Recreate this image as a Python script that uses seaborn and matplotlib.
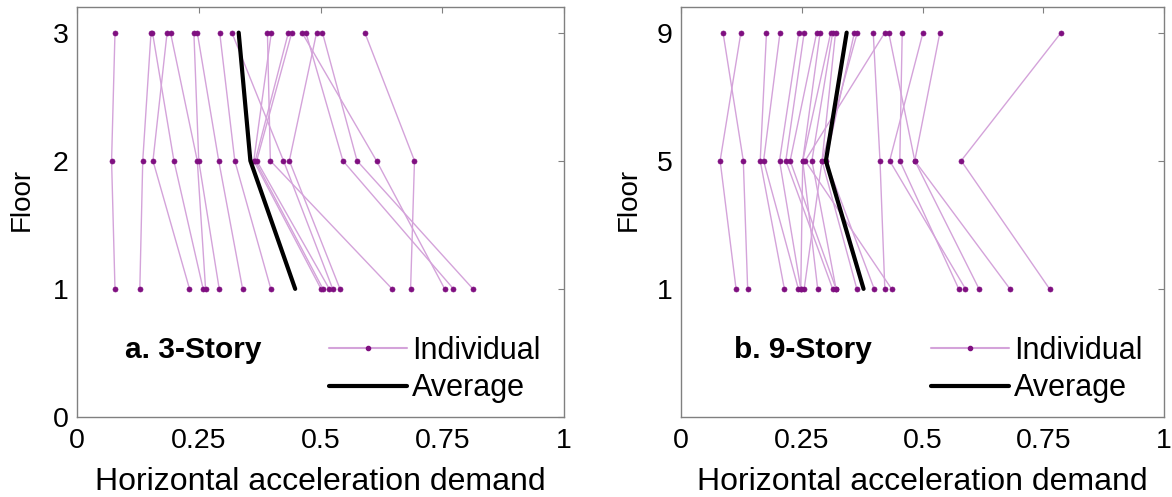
import matplotlib
matplotlib.use("Agg")
import matplotlib.pyplot as plt
from matplotlib.lines import Line2D
import seaborn as sns
import pandas as pd

# ---------------- data: 3-story (floor positions 1,2,3 -> floors 1,2,3)
s3_f1 = [0.078, 0.129, 0.231, 0.259, 0.264, 0.292, 0.340, 0.398, 0.647, 0.501,
         0.505, 0.518, 0.525, 0.540, 0.773, 0.813, 0.755, 0.685]
s3_f2 = [0.071, 0.135, 0.156, 0.199, 0.247, 0.250, 0.291, 0.324, 0.397, 0.363,
         0.366, 0.369, 0.424, 0.436, 0.546, 0.575, 0.615, 0.693]
s3_f3 = [0.078, 0.152, 0.185, 0.155, 0.192, 0.240, 0.247, 0.293, 0.391, 0.399,
         0.434, 0.441, 0.318, 0.492, 0.470, 0.504, 0.462, 0.591]
s3_avg = [0.448, 0.356, 0.332]
s3_floor_labels = ["0", "1", "2", "3"]

# ---------------- data: 9-story (positions 1,2,3 -> floors 1,5,9)
s9_f1 = [0.138, 0.114, 0.214, 0.243, 0.248, 0.314, 0.321, 0.248, 0.283, 0.321,
         0.364, 0.400, 0.255, 0.422, 0.436, 0.617, 0.575, 0.589, 0.681, 0.763]
s9_f5 = [0.129, 0.081, 0.164, 0.171, 0.204, 0.217, 0.226, 0.252, 0.252, 0.271,
         0.292, 0.300, 0.292, 0.412, 0.257, 0.484, 0.453, 0.432, 0.484, 0.580]
s9_f9 = [0.087, 0.124, 0.177, 0.205, 0.244, 0.255, 0.281, 0.288, 0.310, 0.314,
         0.320, 0.359, 0.365, 0.398, 0.422, 0.430, 0.458, 0.501, 0.536, 0.787]
s9_avg = [0.378, 0.300, 0.343]
s9_floor_labels = ["1", "5", "9"]

x_ticks = [0, 0.25, 0.5, 0.75, 1]
x_tick_labels = ["0", "0.25", "0.5", "0.75", "1"]

LINE_C = "#d4a3da"
MARK_C = "#7f0f80"
FS_TICK = 20.5
FS_XLAB = 23
FS_YLAB = 20
FS_LEG = 22
FS_TITLE = 21.5


def long_table(f1, f2, f3):
    rows = []
    for i, vals in enumerate(zip(f1, f2, f3)):
        for pos, v in zip([1, 2, 3], vals):
            rows.append({"rec": i, "pos": pos, "acc": v})
    return pd.DataFrame(rows)


sns.set_theme(style="white")
plt.rcParams["font.family"] = ["Liberation Sans", "DejaVu Sans"]
plt.rcParams["text.color"] = "black"
plt.rcParams["axes.labelcolor"] = "black"
plt.rcParams["xtick.labelcolor"] = "black"
plt.rcParams["ytick.labelcolor"] = "black"

W, H = 1172, 497
fig = plt.figure(figsize=(W / 100, H / 100), dpi=100)
ax1 = fig.add_axes([77 / W, 1 - 417 / H, (564 - 77) / W, (417 - 7) / H])
ax2 = fig.add_axes([681 / W, 1 - 417 / H, (1164 - 681) / W, (417 - 7) / H])

panels = [
    (ax1, long_table(s3_f1, s3_f2, s3_f3), s3_avg, [0, 1, 2, 3], s3_floor_labels,
     "a. 3-Story", 0.098, -0.086),
    (ax2, long_table(s9_f1, s9_f5, s9_f9), s9_avg, [1, 2, 3], s9_floor_labels,
     "b. 9-Story", 0.11, -0.081),
]

for ax, df, avg, yt, ytl, title, tx, ylx in panels:
    sns.lineplot(data=df, x="acc", y="pos", units="rec", estimator=None, sort=False,
                 color=LINE_C, lw=1.0, marker="o", markersize=3.6,
                 markerfacecolor=MARK_C, markeredgecolor=MARK_C, markeredgewidth=0.5,
                 ax=ax, legend=False)
    avg_df = pd.DataFrame({"acc": avg, "pos": [1, 2, 3]})
    sns.lineplot(data=avg_df, x="acc", y="pos", sort=False, estimator=None,
                 color="black", lw=3, ax=ax, legend=False)
    ax.set_xlim(0, 1)
    ax.set_ylim(0, 3.2)
    ax.set_xticks(x_ticks)
    ax.set_xticklabels(x_tick_labels)
    ax.set_yticks(yt)
    ax.set_yticklabels(ytl)
    ax.tick_params(direction="in", length=4, width=0.8, color="#808080",
                   labelsize=FS_TICK, labelcolor="black", top=True, right=True)
    ax.tick_params(axis="x", pad=8)
    ax.tick_params(axis="y", pad=6)
    for sp in ax.spines.values():
        sp.set_visible(True)
        sp.set_color("#808080")
        sp.set_linewidth(1.0)
    ax.set_xlabel("Horizontal acceleration demand", fontsize=FS_XLAB, labelpad=9,
                  color="black")
    ax.set_ylabel("Floor", fontsize=FS_YLAB, color="black")
    ax.yaxis.set_label_coords(ylx, 0.53)
    ax.text(tx, 0.46, title, fontsize=FS_TITLE, fontweight="bold", color="black",
            transform=ax.transData, va="baseline", ha="left")
    handles = [Line2D([0], [0], color=LINE_C, lw=1.5, marker="o", markersize=3,
                      markerfacecolor=MARK_C, markeredgecolor=MARK_C),
               Line2D([0], [0], color="black", lw=3)]
    leg = ax.legend(handles, ["Individual", "Average"], loc="upper left",
                    bbox_to_anchor=(0.518, 0.198), frameon=False, fontsize=FS_LEG,
                    handlelength=2.55, handletextpad=0.15, labelspacing=0.25,
                    borderaxespad=0, borderpad=0)
    for t in leg.get_texts():
        t.set_color("black")

fig.savefig("out.png", dpi=100)
